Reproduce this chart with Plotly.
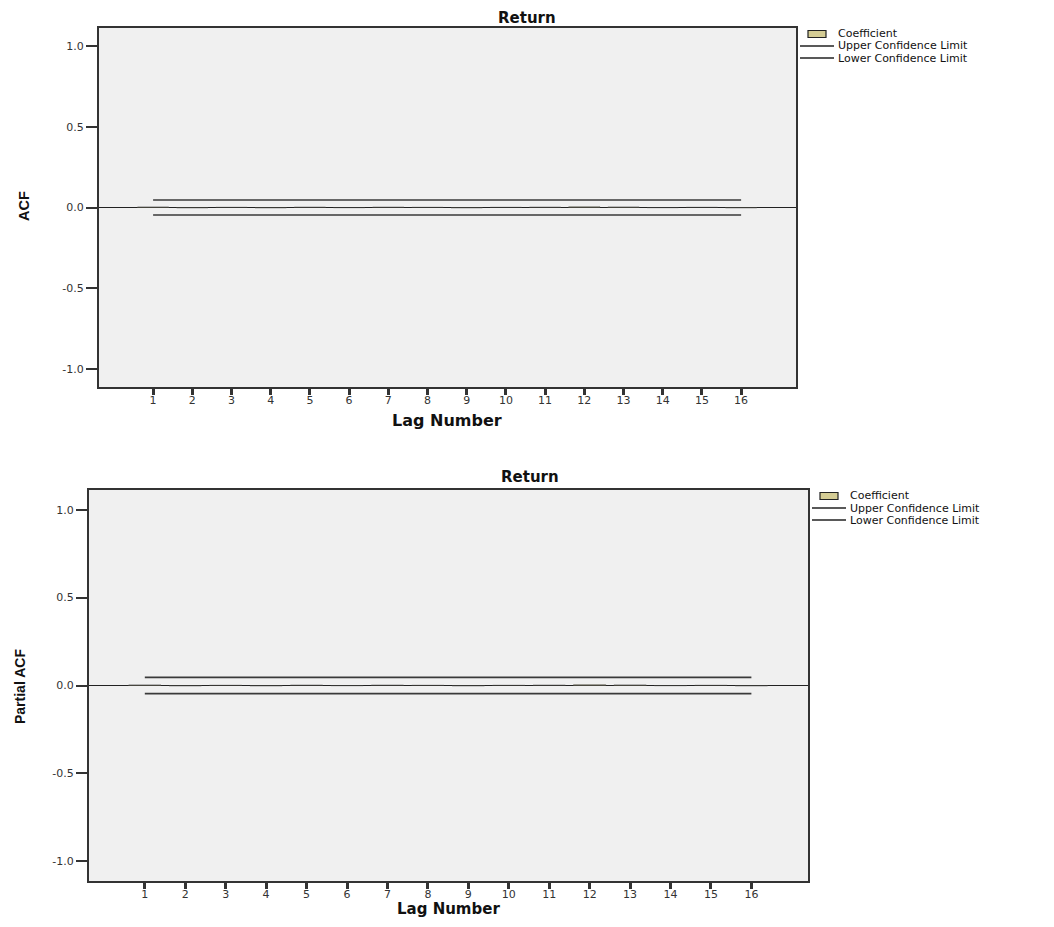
import plotly.graph_objects as go

# page has an 8px body margin: draw in a slightly smaller figure and shift coordinates
OFF = 8
W, H = 1054 - 2 * OFF, 927 - 2 * OFF

lags = list(range(1, 17))
lag_labels = [str(l) for l in lags]
acf_values = [0.003, -0.002, 0.001, -0.002, 0.002, -0.001, 0.002, 0.001,
              -0.002, 0.001, 0.002, 0.004, 0.003, -0.001, 0.001, -0.002]
pacf_values = [0.003, -0.002, 0.001, -0.002, 0.002, -0.001, 0.002, 0.001,
               -0.002, 0.001, 0.002, 0.004, 0.003, -0.001, 0.001, -0.002]
acf_upper = [0.046] * 16
acf_lower = [-0.046] * 16
pacf_upper = [0.046] * 16
pacf_lower = [-0.046] * 16
y_ticks = [-1.0, -0.5, 0.0, 0.5, 1.0]
y_tick_labels = ["-1.0", "-0.5", "0.0", "0.5", "1.0"]
legend_labels = ["Coefficient", "Upper Confidence Limit", "Lower Confidence Limit"]

BAR = "#d4cc94"
LINE = "#3a3a3a"
FONT = "DejaVu Sans, Liberation Sans, Arial, sans-serif"
NARROW = "Liberation Sans Narrow, Liberation Sans, Arial, sans-serif"


def px_x(p):
    return (p - OFF) / W


def px_y(p):
    return 1 - (p - OFF) / H


fig = go.Figure()

panels = [
    dict(vals=acf_values, up=acf_upper, lo=acf_lower, xa="x", ya="y"),
    dict(vals=pacf_values, up=pacf_upper, lo=pacf_lower, xa="x2", ya="y2"),
]
for p in panels:
    fig.add_trace(go.Bar(x=lags, y=p["vals"], width=0.8, name=legend_labels[0],
                         marker=dict(color=BAR, line=dict(color="#333333", width=0.6)),
                         xaxis=p["xa"], yaxis=p["ya"], showlegend=False))
    fig.add_trace(go.Scatter(x=lags, y=p["up"], mode="lines", name=legend_labels[1],
                             line=dict(color=LINE, width=1.6),
                             xaxis=p["xa"], yaxis=p["ya"], showlegend=False))
    fig.add_trace(go.Scatter(x=lags, y=p["lo"], mode="lines", name=legend_labels[2],
                             line=dict(color=LINE, width=1.6),
                             xaxis=p["xa"], yaxis=p["ya"], showlegend=False))

xcommon = dict(range=[-0.38, 17.4], tickmode="array", tickvals=lags, ticktext=lag_labels,
               ticks="outside", ticklen=6, tickwidth=2.5, tickcolor="#333333",
               ticklabelstandoff=-4,
               showline=True, linecolor="#333333", linewidth=2, mirror=True,
               showgrid=False, zeroline=False,
               tickfont=dict(family=FONT, size=11, color="#333333"))
ycommon = dict(range=[-1.112, 1.112], tickmode="array", tickvals=y_ticks, ticktext=y_tick_labels,
               ticks="outside", ticklen=11, tickwidth=1.5, tickcolor="#333333",
               showline=True, linecolor="#333333", linewidth=2, mirror=True,
               showgrid=False, zeroline=True, zerolinecolor="#222222", zerolinewidth=1.2,
               tickfont=dict(family=FONT, size=11, color="#333333"))

fig.update_layout(
    width=W, height=H, margin=dict(l=0, r=0, t=0, b=0),
    paper_bgcolor="white", plot_bgcolor="#f0f0f0",
    showlegend=False,
    xaxis=dict(domain=[px_x(99), px_x(796)], anchor="y", **xcommon),
    yaxis=dict(domain=[px_y(387), px_y(28)], anchor="x", **ycommon),
    xaxis2=dict(domain=[px_x(89), px_x(808)], anchor="y2", **xcommon),
    yaxis2=dict(domain=[px_y(881), px_y(490)], anchor="x2", **ycommon),
)

ann = []
shapes = []


def text(x, y, s, size=14, bold=True, family=FONT, angle=0, xanchor="center"):
    ann.append(dict(x=px_x(x), y=px_y(y), xref="paper", yref="paper",
                    text=f"<b>{s}</b>" if bold else s,
                    showarrow=False, xanchor=xanchor, yanchor="middle", textangle=angle,
                    font=dict(family=family, size=size, color="#111111")))


text(527, 18, "Return", 15)
text(530, 477, "Return", 15)
text(447, 420, "Lag Number", 16)
text(448, 909, "Lag Number", 15)
text(24, 206, "ACF", 14.5, family=NARROW, angle=-90)
text(20, 687, "Partial ACF", 14, family=NARROW, angle=-90)

# legends (one per panel)
for dx, ys in [(0, (34, 46, 58)), (12, (496, 508, 520))]:
    shapes.append(dict(type="rect", xref="paper", yref="paper",
                       x0=px_x(808 + dx), x1=px_x(826 + dx), y0=px_y(ys[0] - 3.5), y1=px_y(ys[0] + 3.5),
                       fillcolor=BAR, line=dict(color="#222222", width=1.2)))
    for yy in ys[1:]:
        shapes.append(dict(type="line", xref="paper", yref="paper",
                           x0=px_x(800 + dx), x1=px_x(834 + dx), y0=px_y(yy), y1=px_y(yy),
                           line=dict(color="#222222", width=1.3)))
    for lbl, yy in zip(legend_labels, ys):
        text(836 + dx, yy, lbl, 11, bold=False, xanchor="left")

fig.update_layout(annotations=ann, shapes=shapes)

fig.write_html("out.html")
